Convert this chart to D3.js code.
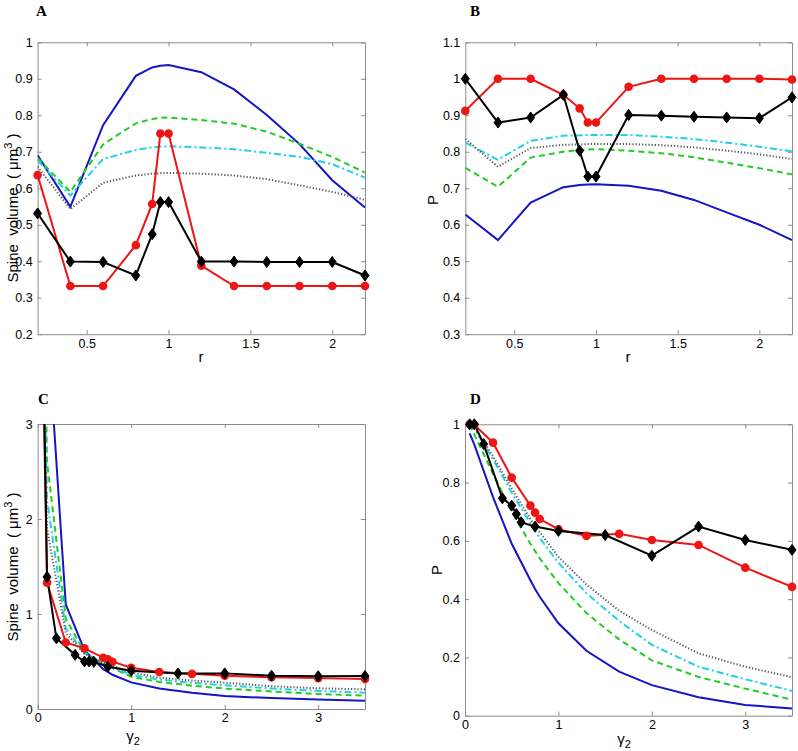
<!DOCTYPE html>
<html><head><meta charset="utf-8">
<script src="https://cdn.jsdelivr.net/npm/d3@7"></script>
<style>
body{margin:0;background:#fff;}
svg{display:block;}
.tick text{font-family:"Liberation Sans",Arial,sans-serif;font-size:12.5px;fill:#000;}
</style></head><body>
<svg id="c" width="798" height="751"></svg>
<script>
// ---------- data ----------
// Panels A and B: x = r
const rGrid = [0.2, 0.4, 0.6, 0.8, 0.9, 0.95, 1.0, 1.2, 1.4, 1.6, 1.8, 2.0, 2.2];
const volA_blue   = [0.690, 0.549, 0.773, 0.908, 0.931, 0.936, 0.938, 0.918, 0.871, 0.801, 0.721, 0.622, 0.547];
const volA_green  = [0.683, 0.590, 0.720, 0.778, 0.790, 0.793, 0.794, 0.787, 0.777, 0.755, 0.722, 0.686, 0.643];
const volA_cyan   = [0.677, 0.580, 0.680, 0.705, 0.712, 0.714, 0.715, 0.712, 0.707, 0.697, 0.686, 0.666, 0.629];
const volA_dotted = [0.659, 0.543, 0.615, 0.635, 0.640, 0.641, 0.642, 0.640, 0.635, 0.625, 0.608, 0.590, 0.568];
const volA_red    = [0.636, 0.332, 0.332, 0.444, 0.557, 0.750, 0.750, 0.388, 0.332, 0.332, 0.332, 0.332, 0.332];
const volA_black  = [0.531, 0.399, 0.398, 0.361, 0.474, 0.562, 0.562, 0.399, 0.399, 0.398, 0.398, 0.398, 0.361];

const pB_blue   = [0.628, 0.558, 0.661, 0.703, 0.709, 0.710, 0.711, 0.707, 0.693, 0.668, 0.634, 0.600, 0.558];
const pB_green  = [0.756, 0.704, 0.784, 0.800, 0.805, 0.806, 0.807, 0.803, 0.796, 0.785, 0.770, 0.755, 0.738];
const pB_cyan   = [0.825, 0.778, 0.830, 0.844, 0.845, 0.846, 0.846, 0.846, 0.841, 0.835, 0.825, 0.814, 0.801];
const pB_dotted = [0.835, 0.759, 0.810, 0.819, 0.820, 0.821, 0.821, 0.821, 0.818, 0.812, 0.803, 0.793, 0.780];
const pB_red    = [0.912, 1.000, 1.000, 0.956, 0.919, 0.880, 0.880, 0.978, 1.000, 1.000, 1.000, 1.000, 0.998];
const pB_black  = [1.000, 0.880, 0.894, 0.956, 0.803, 0.732, 0.732, 0.901, 0.899, 0.896, 0.894, 0.892, 0.949];

// Panels C and D: x = gamma2
const gGrid  = [0.05, 0.1, 0.3, 0.5, 0.7, 0.75, 0.8, 1.0, 1.3, 1.65, 2.0, 2.5, 3.0, 3.5];
const gBlack = [0.05, 0.1, 0.2, 0.4, 0.5, 0.55, 0.6, 0.75, 1.0, 1.5, 2.0, 2.5, 3.0, 3.5];
const volC_blue   = [8.5, 4.1, 1.10, 0.62, 0.42, 0.39, 0.36, 0.280, 0.215, 0.170, 0.137, 0.115, 0.100, 0.088];
const volC_green  = [5.5, 2.6, 0.95, 0.60, 0.47, 0.45, 0.43, 0.340, 0.285, 0.245, 0.215, 0.185, 0.158, 0.140];
const volC_cyan   = [4.5, 2.2, 0.85, 0.59, 0.48, 0.46, 0.44, 0.360, 0.310, 0.275, 0.250, 0.215, 0.190, 0.172];
const volC_dotted = [4.0, 1.9, 0.80, 0.58, 0.49, 0.47, 0.455, 0.385, 0.330, 0.300, 0.277, 0.240, 0.218, 0.207];
const volC_red    = [4.0, 1.33, 0.70, 0.638, 0.54, 0.523, 0.498, 0.435, 0.390, 0.370, 0.350, 0.335, 0.325, 0.315];
const volC_black  = [4.3, 1.39, 0.744, 0.570, 0.500, 0.500, 0.497, 0.445, 0.403, 0.375, 0.375, 0.350, 0.345, 0.347];

const pD_blue   = [0.969, 0.930, 0.750, 0.590, 0.465, 0.435, 0.408, 0.317, 0.223, 0.151, 0.105, 0.063, 0.037, 0.025];
const pD_green  = [1.000, 0.965, 0.830, 0.700, 0.590, 0.565, 0.540, 0.455, 0.352, 0.262, 0.190, 0.133, 0.093, 0.055];
const pD_cyan   = [1.000, 0.985, 0.880, 0.765, 0.660, 0.635, 0.610, 0.525, 0.420, 0.325, 0.243, 0.168, 0.125, 0.085];
const pD_dotted = [1.000, 0.990, 0.890, 0.780, 0.675, 0.650, 0.630, 0.545, 0.450, 0.360, 0.294, 0.214, 0.168, 0.132];
const pD_red    = [1.000, 0.998, 0.937, 0.817, 0.721, 0.697, 0.675, 0.640, 0.617, 0.624, 0.603, 0.586, 0.508, 0.442];
const pD_black  = [1.000, 1.000, 0.932, 0.746, 0.721, 0.692, 0.664, 0.649, 0.634, 0.620, 0.549, 0.649, 0.603, 0.569];

const ticksAB_x = [0.5, 1, 1.5, 2];
const ticksA_y = [0.2, 0.3, 0.4, 0.5, 0.6, 0.7, 0.8, 0.9, 1];
const ticksB_y = [0.3, 0.4, 0.5, 0.6, 0.7, 0.8, 0.9, 1, 1.1];
const ticksCD_x = [0, 1, 2, 3];
const ticksC_y = [0, 1, 2, 3];
const ticksD_y = [0, 0.2, 0.4, 0.6, 0.8, 1];

// ---------- drawing ----------
const svg = d3.select("#c");
const COL = {blue:"#1414c8", green:"#22cc22", cyan:"#22d0e6", dotted:"#555555", red:"#ee1515", black:"#000000"};
const fmt = d => (d === 0 ? "0" : d3.format("~g")(d));

function panel(cfg, idx) {
  const x = d3.scaleLinear().domain(cfg.xd).range([cfg.l, cfg.r]);
  const y = d3.scaleLinear().domain(cfg.yd).range([cfg.b, cfg.t]);
  const g = svg.append("g");
  const cid = "clip" + idx;
  svg.append("clipPath").attr("id", cid).append("rect")
    .attr("x", cfg.l).attr("y", cfg.t).attr("width", cfg.r - cfg.l).attr("height", cfg.b - cfg.t);

  const styleAxis = sel => {
    sel.select(".domain").attr("stroke", "#8c8c8c").attr("stroke-width", 1);
    sel.selectAll(".tick line").attr("stroke", "#8c8c8c");
  };
  g.append("g").attr("transform", `translate(0,${cfg.b})`)
    .call(d3.axisBottom(x).tickValues(cfg.xt).tickFormat(fmt).tickSize(-4).tickSizeOuter(0).tickPadding(cfg.xpad))
    .call(styleAxis);
  g.append("g").attr("transform", `translate(0,${cfg.t})`)
    .call(d3.axisTop(x).tickValues(cfg.xt).tickFormat("").tickSize(-4).tickSizeOuter(0))
    .call(styleAxis);
  g.append("g").attr("transform", `translate(${cfg.l},0)`)
    .call(d3.axisLeft(y).tickValues(cfg.yt).tickFormat(fmt).tickSize(-4).tickSizeOuter(0).tickPadding(5))
    .call(styleAxis);
  g.append("g").attr("transform", `translate(${cfg.r},0)`)
    .call(d3.axisRight(y).tickValues(cfg.yt).tickFormat("").tickSize(-4).tickSizeOuter(0))
    .call(styleAxis);

  const line = d3.line().x(d => x(d[0])).y(d => y(d[1]));
  const lg = g.append("g").attr("clip-path", `url(#${cid})`);
  const series = [
    {xs: cfg.mx, ys: cfg.blue, c: COL.blue, dash: null},
    {xs: cfg.mx, ys: cfg.green, c: COL.green, dash: "6,4"},
    {xs: cfg.mx, ys: cfg.cyan, c: COL.cyan, dash: "7,3,2,3"},
    {xs: cfg.mx, ys: cfg.dotted, c: COL.dotted, dash: "1.2,2"},
  ];
  series.forEach(s => {
    lg.append("path").datum(d3.zip(s.xs, s.ys)).attr("d", line)
      .attr("fill", "none").attr("stroke", s.c).attr("stroke-width", 2)
      .attr("stroke-dasharray", s.dash);
  });
  // red with circles
  const redData = d3.zip(cfg.rx, cfg.red);
  lg.append("path").datum(redData).attr("d", line).attr("fill", "none")
    .attr("stroke", COL.red).attr("stroke-width", 2);
  g.append("g").selectAll("circle").data(redData.filter(d => d[1] <= cfg.yd[1]))
    .join("circle").attr("cx", d => x(d[0])).attr("cy", d => y(d[1])).attr("r", 4.3)
    .attr("fill", COL.red);
  // black with diamonds
  const blackData = d3.zip(cfg.bx, cfg.black);
  lg.append("path").datum(blackData).attr("d", line).attr("fill", "none")
    .attr("stroke", COL.black).attr("stroke-width", 2);
  g.append("g").selectAll("path").data(blackData.filter(d => d[1] <= cfg.yd[1]))
    .join("path").attr("d", "M0,-5.5L4,0L0,5.5L-4,0Z")
    .attr("transform", d => `translate(${x(d[0])},${y(d[1])})`)
    .attr("fill", COL.black).attr("stroke", COL.black).attr("stroke-width", 1);

  // panel letter
  svg.append("text").attr("x", cfg.lx).attr("y", cfg.ly).text(cfg.letter)
    .attr("font-family", "'Liberation Serif','Times New Roman',serif")
    .attr("font-weight", "bold").attr("font-size", 15);
}

const lab = {"font-family": "'Liberation Sans',Arial,sans-serif", "font-size": 15};

panel({xd:[0.2,2.2], yd:[0.2,1], l:37.6, r:365, t:42.3, b:334.2, xt:ticksAB_x, yt:ticksA_y, xpad:5,
  mx:rGrid, blue:volA_blue, green:volA_green, cyan:volA_cyan, dotted:volA_dotted,
  rx:rGrid, red:volA_red, bx:rGrid, black:volA_black, letter:"A", lx:36, ly:16}, 0);
panel({xd:[0.2,2.2], yd:[0.3,1.1], l:465.3, r:792, t:42.3, b:334.2, xt:ticksAB_x, yt:ticksB_y, xpad:5,
  mx:rGrid, blue:pB_blue, green:pB_green, cyan:pB_cyan, dotted:pB_dotted,
  rx:rGrid, red:pB_red, bx:rGrid, black:pB_black, letter:"B", lx:470, ly:16}, 1);
panel({xd:[0,3.5], yd:[0,3], l:37.7, r:365, t:424, b:709, xt:ticksCD_x, yt:ticksC_y, xpad:4,
  mx:gGrid, blue:volC_blue, green:volC_green, cyan:volC_cyan, dotted:volC_dotted,
  rx:gGrid, red:volC_red, bx:gBlack, black:volC_black, letter:"C", lx:38, ly:404}, 2);
panel({xd:[0,3.5], yd:[0,1], l:465, r:792, t:424.3, b:715.7, xt:ticksCD_x, yt:ticksD_y, xpad:4,
  mx:gGrid, blue:pD_blue, green:pD_green, cyan:pD_cyan, dotted:pD_dotted,
  rx:gGrid, red:pD_red, bx:gBlack, black:pD_black, letter:"D", lx:470, ly:404}, 3);

// axis labels
function ylab(xp, yp, volume) {
  const t = svg.append("text").attr("transform", `translate(${xp},${yp}) rotate(-90)`)
    .attr("text-anchor", "middle").attr("font-family", lab["font-family"]).attr("font-size", lab["font-size"]);
  if (volume) {
    t.append("tspan").text("Spine\u00a0\u00a0volume\u00a0\u00a0(\u00a0μm");
    t.append("tspan").text("3").attr("font-size", 11).attr("dy", -6);
    t.append("tspan").text("\u00a0)").attr("dy", 6);
  } else {
    t.text("P");
  }
}
ylab(17.5, 208, true);
ylab(438, 200, false);
ylab(17.5, 567, true);
ylab(442, 570, false);

function xlab(xp, yp, gamma) {
  const t = svg.append("text").attr("x", xp).attr("y", yp).attr("text-anchor", "middle")
    .attr("font-family", lab["font-family"]).attr("font-size", lab["font-size"]);
  if (gamma) {
    t.append("tspan").text("γ");
    t.append("tspan").text("2").attr("font-size", 11).attr("dy", 4);
  } else t.text("r");
}
xlab(201, 362, false);
xlab(628, 362, false);
xlab(133, 741, true);
xlab(624, 744, true);
</script>
</body></html>
